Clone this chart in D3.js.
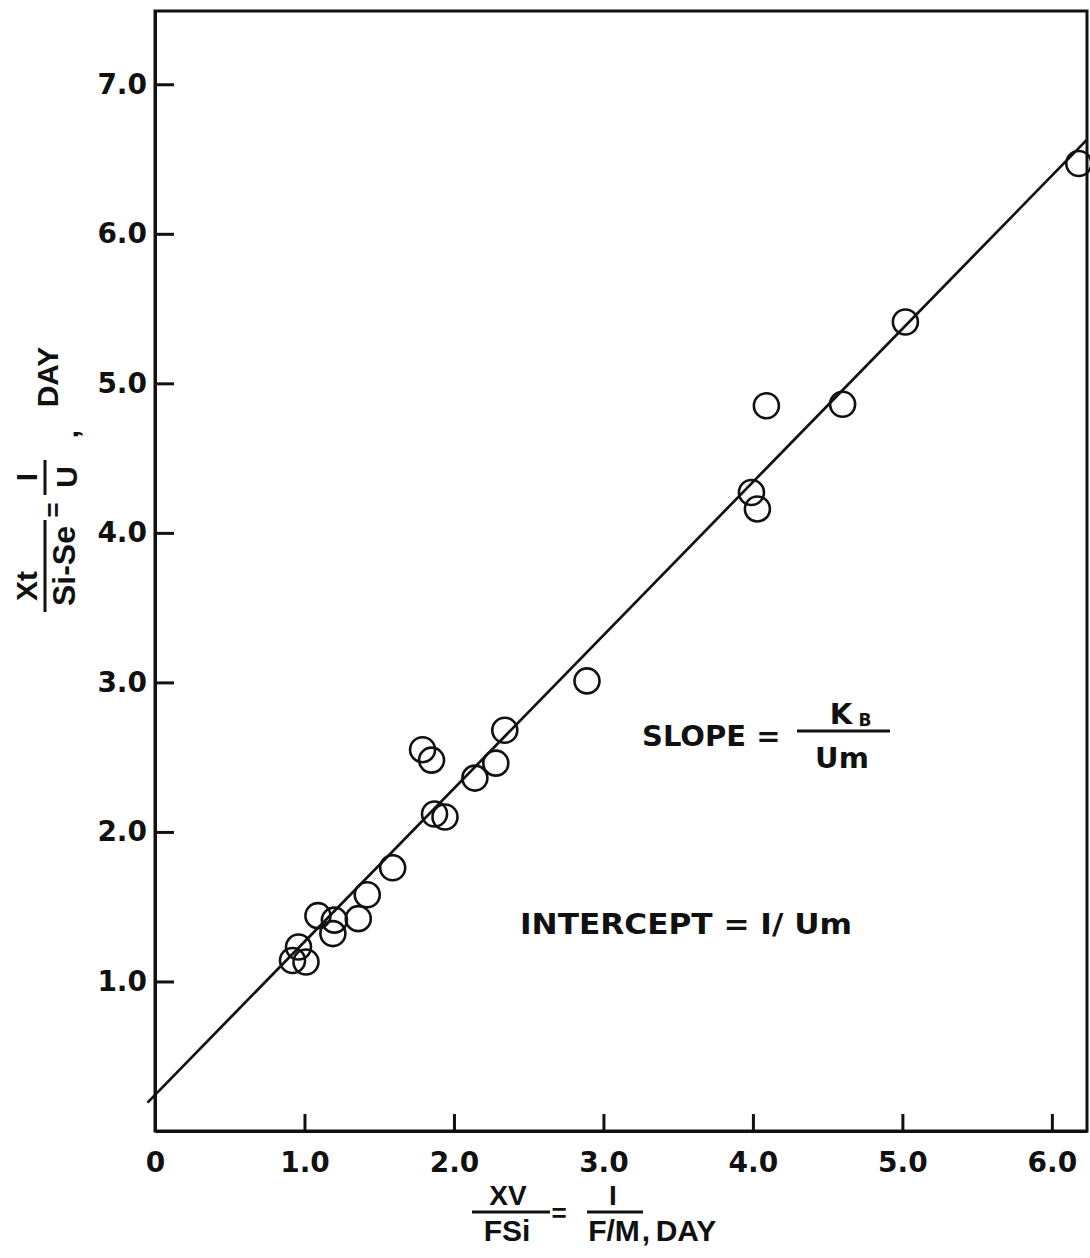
<!DOCTYPE html>
<html>
<head>
<meta charset="utf-8">
<script src="https://cdn.jsdelivr.net/npm/d3@7"></script>
<style>
  body { margin: 0; background: #fff; }
  svg { display: block; }
  .tick text { font-family: "DejaVu Sans", sans-serif; font-weight: bold; font-size: 28px; fill: #111; }
  .lbl { font-family: "DejaVu Sans", sans-serif; font-weight: bold; fill: #111; }
  .nar { font-family: "Liberation Sans Narrow", "Liberation Sans", sans-serif; font-weight: bold; fill: #111; }
</style>
</head>
<body>
<div id="chart"></div>
<script>
// data
var pointsX = [0.92, 0.96, 1.01, 1.09, 1.19, 1.20, 1.36, 1.42, 1.59, 1.79, 1.85, 1.87, 1.94, 2.14, 2.28, 2.34, 2.89, 3.99, 4.03, 4.09, 4.60, 5.02, 6.18];
var pointsY = [1.14, 1.23, 1.13, 1.44, 1.32, 1.41, 1.42, 1.58, 1.76, 2.55, 2.48, 2.12, 2.10, 2.36, 2.46, 2.68, 3.01, 4.27, 4.16, 4.85, 4.86, 5.41, 6.47];
// fitted line end points
var lineX = [-0.05, 6.235];
var lineY = [0.19, 6.63];
var xTicks = [0, 1, 2, 3, 4, 5, 6];
var xTickLabels = ["0", "1.0", "2.0", "3.0", "4.0", "5.0", "6.0"];
var yTicks = [1, 2, 3, 4, 5, 6, 7];
var yTickLabels = ["1.0", "2.0", "3.0", "4.0", "5.0", "6.0", "7.0"];

var W = 1090, H = 1258;
var margin = {top: 11, right: 3, bottom: 127, left: 155};

var svg = d3.select("#chart").append("svg")
    .attr("width", W)
    .attr("height", H);

var x = d3.scaleLinear().domain([0, 6.235]).range([margin.left, W - margin.right]);
var y = d3.scaleLinear().domain([0, 7.49]).range([H - margin.bottom, margin.top]);

// frame
svg.append("rect")
    .attr("x", x(0)).attr("y", y(7.49))
    .attr("width", x(6.235) - x(0)).attr("height", y(0) - y(7.49))
    .attr("fill", "none").attr("stroke", "#111").attr("stroke-width", 3);

var xAxis = d3.axisBottom(x)
    .tickValues(xTicks)
    .tickFormat(function(d, i) { return xTickLabels[i]; })
    .tickSizeInner(-17).tickSizeOuter(0).tickPadding(21);

var yAxis = d3.axisLeft(y)
    .tickValues(yTicks)
    .tickFormat(function(d, i) { return yTickLabels[i]; })
    .tickSizeInner(-19).tickSizeOuter(0).tickPadding(8);

var gx = svg.append("g").attr("transform", "translate(0," + y(0) + ")").call(xAxis);
var gy = svg.append("g").attr("transform", "translate(" + x(0) + ",0)").call(yAxis);
[gx, gy].forEach(function(g) {
  g.select(".domain").attr("stroke", "#111").attr("stroke-width", 3);
  g.selectAll(".tick line").attr("stroke", "#111").attr("stroke-width", 3);
});

// fit line
svg.append("line")
    .attr("x1", x(lineX[0])).attr("y1", y(lineY[0]))
    .attr("x2", x(lineX[1])).attr("y2", y(lineY[1]))
    .attr("stroke", "#111").attr("stroke-width", 2.7);

// points
svg.selectAll("circle.pt")
    .data(pointsX)
    .enter().append("circle")
    .attr("class", "pt")
    .attr("cx", function(d) { return x(d); })
    .attr("cy", function(d, i) { return y(pointsY[i]); })
    .attr("r", 12.5)
    .attr("fill", "none")
    .attr("stroke", "#111")
    .attr("stroke-width", 2.6);

function txt(g, s, px, py, size, anchor, cls) {
  return g.append("text").attr("class", cls || "nar")
    .attr("x", px).attr("y", py)
    .attr("font-size", size)
    .attr("text-anchor", anchor || "middle")
    .text(s);
}
function bar(g, x1, x2, yy) {
  g.append("line").attr("x1", x1).attr("x2", x2).attr("y1", yy).attr("y2", yy)
    .attr("stroke", "#111").attr("stroke-width", 3);
}

// x axis title
var xt = svg.append("g");
txt(xt, "XV", 508, 1205, 28);
bar(xt, 472, 550, 1212);
txt(xt, "FSi", 507, 1241, 30);
txt(xt, "=", 559, 1222, 26);
txt(xt, "I", 613, 1205, 28);
bar(xt, 587, 643, 1212);
txt(xt, "F/M", 614, 1241, 30);
txt(xt, ",", 646, 1241, 30);
txt(xt, "DAY", 686, 1241, 30);

// y axis title (rotated)
var yt = svg.append("g").attr("transform", "translate(0,612) rotate(-90)");
txt(yt, "Xt", 26, 37, 30);
bar(yt, 0, 92, 45);
txt(yt, "Si-Se", 46, 75, 32);
txt(yt, "=", 102, 62, 26);
txt(yt, "I", 135, 37, 30);
bar(yt, 117, 152, 45);
txt(yt, "U", 135, 77, 30);
txt(yt, ",", 178, 78, 30);
txt(yt, "DAY", 235, 58, 30);

// annotations
var an = svg.append("g");
txt(an, "SLOPE =", 642, 746, 29, "start", "lbl");
txt(an, "K", 841, 724, 29, "middle", "lbl");
txt(an, "B", 865, 726, 17, "middle", "lbl");
bar(an, 797, 890, 731);
txt(an, "Um", 842, 768, 29, "middle", "lbl");
txt(an, "INTERCEPT = I/ Um", 520, 934, 29, "start", "lbl")
    .attr("textLength", 332).attr("lengthAdjust", "spacingAndGlyphs");
</script>
</body>
</html>
